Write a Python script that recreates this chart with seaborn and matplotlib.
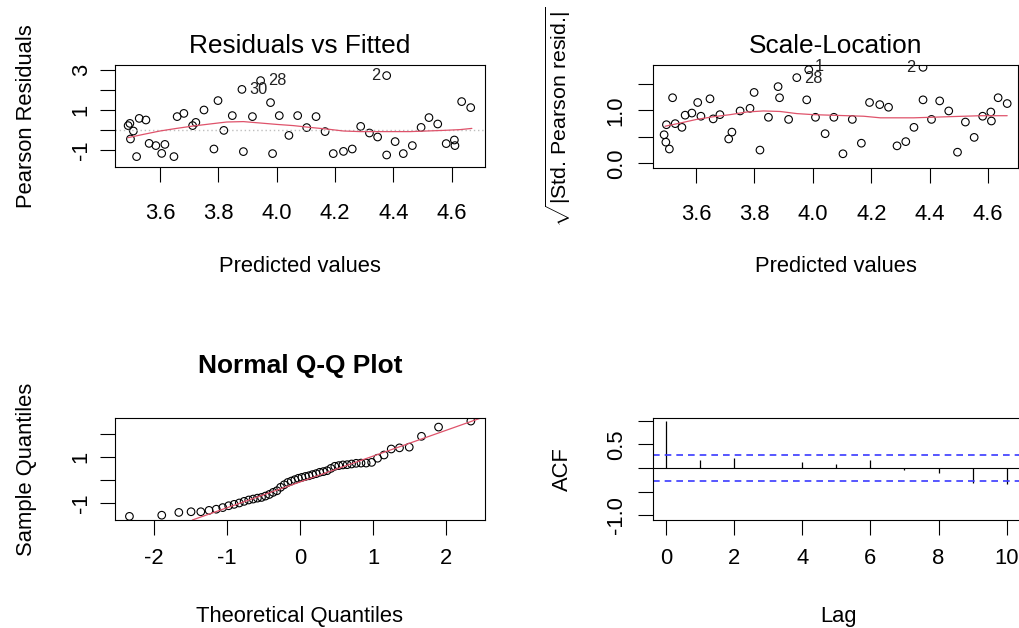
import numpy as np
import pandas as pd
import seaborn as sns
import matplotlib
matplotlib.use("Agg")
import matplotlib.pyplot as plt
from statistics import NormalDist

# ---- model diagnostics data -------------------------------------------------
fitted = [3.491, 3.497, 3.499, 3.509, 3.520, 3.529, 3.552, 3.563, 3.586, 3.606,
          3.617, 3.648, 3.659, 3.682, 3.712, 3.723, 3.751, 3.785, 3.799, 3.819,
          3.848, 3.881, 3.886, 3.917, 3.945, 3.979, 3.986, 4.009, 4.042, 4.072,
          4.103, 4.135, 4.166, 4.194, 4.229, 4.259, 4.288, 4.318, 4.346, 4.377,
          4.377, 4.406, 4.434, 4.465, 4.495, 4.522, 4.552, 4.581, 4.609, 4.611,
          4.634, 4.665]
pearson_resid = [0.22, 0.33, -0.45, -0.05, -1.33, 0.58, 0.50, -0.67, -0.78, -1.17,
                 -0.72, -1.33, 0.67, 0.83, 0.22, 0.38, 1.00, -0.95, 1.47, -0.02,
                 0.72, 2.03, -1.08, 0.67, 2.47, 1.37, -1.18, 0.72, -0.27, 0.72,
                 0.12, 0.67, -0.08, -1.18, -1.07, -0.95, 0.18, -0.15, -0.35, 2.72,
                 -1.25, -0.58, -1.18, -0.78, 0.13, 0.62, 0.30, -0.68, -0.50, -0.78,
                 1.42, 1.12]
sqrt_std_resid = [0.54, 0.40, 0.73, 0.27, 1.24, 0.75, 0.68, 0.91, 0.95, 1.15,
                  0.89, 1.22, 0.84, 0.92, 0.46, 0.59, 0.99, 1.04, 1.34, 0.25,
                  0.87, 1.45, 1.24, 0.83, 1.62, 1.20, 1.77, 0.87, 0.56, 0.87,
                  0.18, 0.83, 0.38, 1.15, 1.11, 1.06, 0.33, 0.41, 0.68, 1.815,
                  1.20, 0.83, 1.18, 0.99, 0.21, 0.78, 0.49, 0.89, 0.97, 0.80,
                  1.24, 1.13]

# observation ids shown next to the most extreme points
resid_ids = {21: "30", 24: "28", 39: "2"}
scale_ids = {24: "28", 26: "1", 39: "2"}

# smoother through the residuals
smooth_resid_x = [3.491, 3.543, 3.600, 3.657, 3.714, 3.771, 3.829, 3.886, 3.943,
                  4.000, 4.057, 4.114, 4.171, 4.229, 4.286, 4.343, 4.400, 4.457,
                  4.514, 4.571, 4.629, 4.669]
smooth_resid_y = [-0.38, -0.22, -0.05, 0.08, 0.20, 0.30, 0.40, 0.42, 0.35,
                  0.28, 0.22, 0.13, 0.05, -0.05, -0.08, -0.08, -0.08, -0.08,
                  -0.05, -0.02, 0.02, 0.08]
smooth_scale_x = [3.494, 3.545, 3.602, 3.659, 3.717, 3.774, 3.831, 3.888, 3.945,
                  4.002, 4.059, 4.117, 4.174, 4.231, 4.288, 4.345, 4.402, 4.459,
                  4.517, 4.574, 4.665]
smooth_scale_y = [0.70, 0.76, 0.83, 0.88, 0.92, 0.97, 0.99, 0.98, 0.94,
                  0.92, 0.91, 0.90, 0.89, 0.86, 0.86, 0.86, 0.87, 0.88,
                  0.89, 0.90, 0.90]

# ordered sample quantiles of the residuals
qq_sample = [-1.59, -1.54, -1.42, -1.39, -1.39, -1.33, -1.28, -1.21, -1.13, -1.07,
             -1.01, -0.94, -0.88, -0.84, -0.80, -0.77, -0.71, -0.64, -0.55, -0.48,
             -0.33, -0.22, -0.12, -0.06, 0.00, 0.06, 0.10, 0.14, 0.17, 0.22,
             0.26, 0.32, 0.35, 0.39, 0.49, 0.58, 0.61, 0.64, 0.65, 0.68,
             0.71, 0.72, 0.72, 0.75, 0.93, 1.07, 1.33, 1.38, 1.41, 1.88,
             2.28, 2.54]

# autocorrelation of the residuals
acf_lag = [0, 1, 2, 3, 4, 5, 6, 7, 8, 9, 10]
acf_value = [1.0, 0.17, 0.22, 0.01, 0.13, 0.08, 0.17, -0.045, -0.10, -0.31, -0.34]
n_obs = 52

# tick positions and the labels printed at them
resid_xticks = [3.6, 3.8, 4.0, 4.2, 4.4, 4.6]
resid_xlabels = ["3.6", "3.8", "4.0", "4.2", "4.4", "4.6"]
resid_yticks = [-1, 0, 1, 2, 3]
resid_ylabels = ["-1", "", "1", "", "3"]
scale_yticks = [0.0, 0.5, 1.0, 1.5]
scale_ylabels = ["0.0", "", "1.0", ""]
qq_xticks = [-2, -1, 0, 1, 2]
qq_xlabels = ["-2", "-1", "0", "1", "2"]
qq_yticks = [-1, 0, 1, 2]
qq_ylabels = ["-1", "", "1", ""]
acf_xticks = [0, 2, 4, 6, 8, 10]
acf_xlabels = ["0", "2", "4", "6", "8", "10"]
acf_yticks = [-1.0, -0.5, 0.0, 0.5, 1.0]
acf_ylabels = ["-1.0", "", "", "0.5", ""]

# ---- style ------------------------------------------------------------------
sns.set_style("ticks")
plt.rcParams.update({
    "font.family": ["Liberation Sans", "DejaVu Sans"],
    "font.size": 15.8,
    "axes.unicode_minus": False,
    "axes.linewidth": 0.8,
    "axes.edgecolor": "black",
    "axes.labelcolor": "black",
    "text.color": "black",
    "xtick.color": "black",
    "ytick.color": "black",
    "xtick.major.size": 10.7,
    "ytick.major.size": 10.7,
    "xtick.major.width": 0.8,
    "ytick.major.width": 0.8,
    "xtick.labelsize": 15.8,
    "ytick.labelsize": 15.8,
    "mathtext.fontset": "custom",
    "mathtext.rm": "Liberation Sans",
    "mathtext.it": "Liberation Sans:italic",
    "mathtext.bf": "Liberation Sans:bold",
})

W, H = 1020, 628
fig = plt.figure(figsize=(W / 100, H / 100), dpi=100)
fig.patch.set_facecolor("white")


def panel(x0, y0, x1, y1):
    ax = fig.add_axes([x0 / W, 1 - y1 / H, (x1 - x0) / W, (y1 - y0) / H])
    for s in ax.spines.values():
        s.set_visible(True)
    ax.set_facecolor("white")
    return ax


RED = "#DF536B"
pt_kw = dict(s=30, facecolor="none", edgecolor="black", linewidth=0.8, marker="o")


def finish(ax, xt, xl, yt, yl, xpad, ypad):
    ax.set_xticks(xt, xl)
    ax.set_yticks(yt, yl)
    ax.tick_params(axis="x", pad=xpad)
    ax.tick_params(axis="y", pad=ypad, labelrotation=90)
    for lab in ax.get_yticklabels():
        lab.set_va("center")


def label_axes(ax, xlabel, ylabel, x_base, y_base, title=None, t_base=None,
               bold=False, ysize=None):
    ax.set_xlabel(xlabel)
    ax.xaxis.set_label_coords(0.5, x_base)
    ax.xaxis.label.set_va("baseline")
    ax.set_ylabel(ylabel, fontsize=ysize)
    ax.yaxis.set_label_coords(y_base, 0.5)
    ax.yaxis.label.set_va("baseline")
    if title:
        ax.set_title(title, y=t_base, pad=0, fontsize=18.9,
                     fontweight="bold" if bold else "normal")


# ---- Residuals vs Fitted ----------------------------------------------------
ax1 = panel(115, 65, 485, 167)
df1 = pd.DataFrame({"fitted": fitted, "resid": pearson_resid})
ax1.axhline(0, color="#BEBEBE", linestyle=(0, (1, 2)), linewidth=1.0)
sns.scatterplot(data=df1, x="fitted", y="resid", ax=ax1, **pt_kw)
sns.lineplot(x=smooth_resid_x, y=smooth_resid_y, ax=ax1, color=RED,
             linewidth=0.9, estimator=None, sort=False)
for i, lab in resid_ids.items():
    left = fitted[i] < 4.1
    ax1.annotate(lab, (fitted[i], pearson_resid[i]), xytext=(5.3 if left else -4.5, 0),
                 textcoords="offset points", ha="left" if left else "right",
                 va="center", fontsize=11.8, color="#222222")
ax1.set_xlim(3.446, 4.714)
ax1.set_ylim(-1.85, 3.25)
finish(ax1, resid_xticks, resid_xlabels, resid_yticks, resid_ylabels, 15.5, 6.0)
label_axes(ax1, "Predicted values", "Pearson Residuals",
           -(271.7 - 167) / 102, -(115 - 31.7) / 370,
           "Residuals vs Fitted", 1 + (65 - 53) / 102)

# ---- Scale-Location ---------------------------------------------------------
ax2 = panel(653, 65, 1018, 168)
df2 = pd.DataFrame({"fitted": fitted, "scale": sqrt_std_resid})
sns.scatterplot(data=df2, x="fitted", y="scale", ax=ax2, **pt_kw)
sns.lineplot(x=smooth_scale_x, y=smooth_scale_y, ax=ax2, color=RED,
             linewidth=0.9, estimator=None, sort=False)
scale_offsets = {24: (5.0, -0.8), 26: (4.6, 2.6), 39: (-5.5, 0)}
for i, lab in scale_ids.items():
    left = fitted[i] < 4.1
    ax2.annotate(lab, (fitted[i], sqrt_std_resid[i]), xytext=scale_offsets[i],
                 textcoords="offset points", ha="left" if left else "right",
                 va="center", fontsize=11.8, color="#222222")
ax2.set_xlim(3.453, 4.702)
ax2.set_ylim(-0.089, 1.859)
finish(ax2, resid_xticks, resid_xlabels, scale_yticks, scale_ylabels, 15.5, 8.2)
label_axes(ax2, "Predicted values", r"$\sqrt{|\text{Std. Pearson resid.}|}$",
           -(271.7 - 168) / 103, -(653 - 566.7) / 365,
           "Scale-Location", 1 + (65 - 53) / 103, ysize=15.4)

# ---- Normal Q-Q -------------------------------------------------------------
ax3 = panel(115, 418, 485, 520)
n = len(qq_sample)
nd = NormalDist()
theo = [nd.inv_cdf((i + 0.5) / n) for i in range(n)]
df3 = pd.DataFrame({"theoretical": theo, "sample": qq_sample})
sns.scatterplot(data=df3, x="theoretical", y="sample", ax=ax3, **pt_kw)
q25, q75 = np.quantile(qq_sample, [0.25, 0.75])
z25, z75 = nd.inv_cdf(0.25), nd.inv_cdf(0.75)
slope = (q75 - q25) / (z75 - z25)
intercept = q25 - slope * z25
ax3.axline((0, intercept), slope=slope, color=RED, linewidth=0.9)
ax3.set_xlim(-2.539, 2.535)
ax3.set_ylim(-1.748, 2.674)
finish(ax3, qq_xticks, qq_xlabels, qq_yticks, qq_ylabels, 9.7, 6.0)
label_axes(ax3, "Theoretical Quantiles", "Sample Quantiles",
           -(622 - 520) / 102, -(115 - 31.7) / 370,
           "Normal Q-Q Plot", 1 + (418 - 373.3) / 102, bold=True)

# ---- ACF of residuals -------------------------------------------------------
ax4 = panel(653, 418, 1024, 520)
ax4.axhline(0, color="black", linewidth=0.8)
ax4.vlines(acf_lag, 0, acf_value, color="black", linewidth=0.9)
ci = 1.96 / np.sqrt(n_obs)
for c in (ci, -ci):
    ax4.axhline(c, color="#3A3AFF", linestyle=(0, (4, 3)), linewidth=1.2)
ax4.set_xlim(-0.382, 10.508)
ax4.set_ylim(-1.106, 1.063)
finish(ax4, acf_xticks, acf_xlabels, acf_yticks, acf_ylabels, 9.7, 8.2)
label_axes(ax4, "Lag", "ACF", -(622 - 520) / 102, -(653 - 568.3) / 371)

fig.savefig("out.png", dpi=100, facecolor="white")
